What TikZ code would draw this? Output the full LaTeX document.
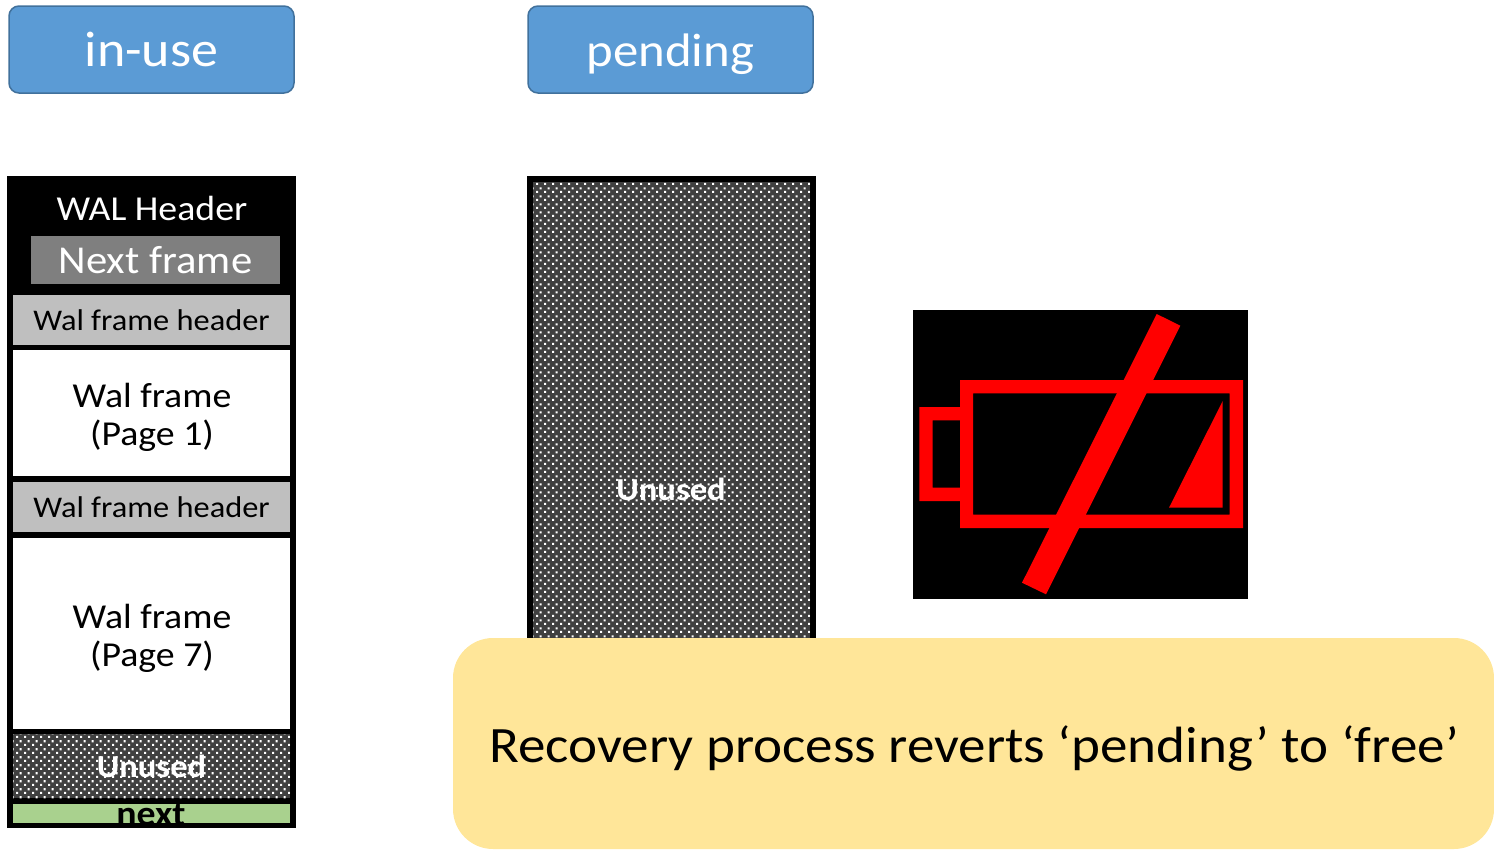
\documentclass[tikz,border=0pt]{standalone}
\usepackage{fontspec}
\setmainfont[FakeStretch=1.08]{Carlito}
\usetikzlibrary{patterns}
\pgfdeclarepatternformonly{unuseddots}{\pgfqpoint{0pt}{0pt}}{\pgfqpoint{8pt}{8pt}}{\pgfqpoint{8pt}{8pt}}{%
  \pgfpathrectangle{\pgfqpoint{0pt}{0pt}}{\pgfqpoint{2.4pt}{2.4pt}}%
  \pgfpathrectangle{\pgfqpoint{4pt}{4pt}}{\pgfqpoint{2.4pt}{2.4pt}}%
  \pgfusepath{fill}}
\definecolor{bluefill}{HTML}{5B9BD5}
\definecolor{blueline}{HTML}{41719C}
\definecolor{hdrgray}{HTML}{BFBFBF}
\definecolor{nextgray}{HTML}{7F7F7F}
\definecolor{dotdark}{HTML}{404040}
\definecolor{nextgreen}{HTML}{A9D18E}
\definecolor{noteyellow}{HTML}{FFE699}
\tikzset{
  box/.style={minimum width=#1,inner sep=0pt,outer sep=0pt,anchor=north west},
  state/.style={box=285pt,minimum height=87pt,rounded corners=10pt,fill=bluefill,draw=blueline,line width=1.5pt,text=white,text height=34pt,text depth=0pt,font=\fontsize{50}{50}\selectfont},
  framehdr/.style={box=277pt,minimum height=50pt,fill=hdrgray,font=\fontsize{30}{30}\selectfont},
  framebody/.style={box=277pt,fill=white},
  bodytext/.style={anchor=center,align=center,font=\fontsize{35}{38}\selectfont},
  unusedfill/.style={box=#1,preaction={fill=dotdark},pattern=unuseddots,pattern color=white,text=white,font=\bfseries\fontsize{32}{32}\selectfont},
  batt/.style={fill=red,even odd rule}
}
\begin{document}
\begin{tikzpicture}[x=1pt,y=-1pt]
\useasboundingbox (0,0) rectangle (1494,849);
% state labels
\node[state] (inuse) at (9,6) {in-use};
\node[state,font=\fontsize{47}{47}\selectfont] (pending) at (528,6) {pending};
% in-use column
\node[box=289pt,minimum height=652pt,fill=black] (walcol) at (7,176) {};
\node[anchor=center,text=white,font=\fontsize{35}{35}\selectfont] (walhdr) at (152,208) {WAL Header};
\node[box=249pt,minimum height=48pt,fill=nextgray,text=white,font=\fontsize{39.5}{40}\selectfont] (nextframe) at (31,236) {\raisebox{-2pt}{Next frame}};
\node[framehdr] (h1) at (13,295) {Wal frame header};
\node[framebody,minimum height=126pt] (p1) at (13,350) {};
\node[bodytext] (p1text) at (152,417) {Wal frame\\(Page 1)};
\node[framehdr] (h2) at (13,482) {Wal frame header};
\node[framebody,minimum height=191pt] (p7) at (13,538) {};
\node[bodytext] (p7text) at (152,638) {Wal frame\\(Page 7)};
\node[unusedfill=277pt,minimum height=64pt] (unusedsmall) at (13,734) {Unused};
\node[box=277pt,minimum height=19pt,fill=nextgreen] (nextbox) at (13,804) {};
\node[anchor=center,font=\bfseries\fontsize{35}{35}\selectfont] (nexttext) at (151,815) {next};
% pending column
\node[box=289pt,minimum height=470pt,fill=black] (pendcol) at (527,176) {};
\node[unusedfill=277pt,minimum height=461pt] (unusedbig) at (533,182) {};
\node[anchor=center,text=white,font=\bfseries\fontsize{32}{32}\selectfont] (unusedlabel) at (671,489) {Unused};
% battery icon
\node[box=335pt,minimum height=289pt,fill=black] (icon) at (913,310) {};
\fill[batt] (960,380) rectangle (1243,528) (973,393.3) rectangle (1229.5,514.7);
\fill[batt] (919.3,407) rectangle (960,501) (932.7,420.3) rectangle (960,487.7);
\fill[red] (1222.7,401) -- (1222.7,507.7) -- (1169,507.7) -- cycle;
\fill[red] (1156.7,314) -- (1180.3,325.7) -- (1046,594.3) -- (1022,582.7) -- cycle;
% note
\fill[noteyellow,rounded corners=40pt] (453,638) rectangle (1494,849);
\node[anchor=center,font=\fontsize{51}{51}\selectfont] (note) at (974,748) {Recovery process reverts ‘pending’ to ‘free’};
\end{tikzpicture}
\end{document}
